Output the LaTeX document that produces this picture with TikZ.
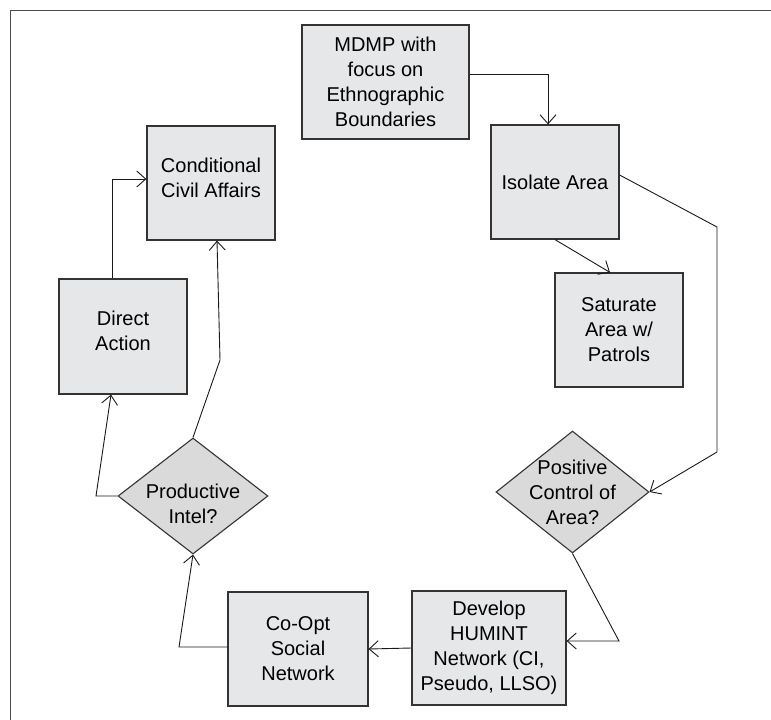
\documentclass[tikz,border=0pt]{standalone}
\usepackage{fontspec}
\setmainfont{Liberation Sans}
\usetikzlibrary{shapes.geometric,arrows.meta}
\definecolor{boxgray}{RGB}{230,231,232}
\definecolor{diagray}{RGB}{218,218,219}

\begin{document}
\begin{tikzpicture}[x=1pt, y=-1pt,
  every node/.style={inner sep=0pt, align=center, font=\fontsize{20}{25}\selectfont},
  procbox/.style={draw=black!80, line width=1.2pt, rectangle, fill=boxgray, minimum width=128pt, minimum height=114pt},
  decbox/.style={draw=black!80, line width=1.1pt, diamond, fill=diagray},
  flow/.style={draw=black!90, line width=0.9pt, -{Straight Barb[length=9pt,width=16pt]}}]
\useasboundingbox (0,0) rectangle (771,720);
\draw[black!70, line width=1.2pt] (10.5,720) -- (10.5,10.5) -- (771,10.5);
\node[procbox, minimum width=167pt] (MDMP) at (385.5,82) {MDMP with\\focus on\\Ethnographic\\Boundaries};
\node[procbox] (ISO) at (555,182) {Isolate Area};
\node[procbox] (SAT) at (619,330) {Saturate\\Area w/\\Patrols};
\node[decbox, minimum width=153pt, minimum height=122pt, label={center:Positive\\Control of\\Area?}] (POS) at (572.5,492) {};
\node[procbox, minimum width=154pt] (DEV) at (489,648) {Develop\\HUMINT\\Network (CI,\\Pseudo, LLSO)};
\node[procbox, minimum width=140pt] (COOP) at (298,649) {Co-Opt\\Social\\Network};
\node[decbox, minimum width=150pt, minimum height=116pt, label={[yshift=-8pt]center:Productive\\Intel?}] (PROD) at (193,496) {};
\node[procbox, minimum height=115pt, text depth=11pt] (DIR) at (123,336.5) {Direct\\Action};
\node[procbox, text depth=11pt] (CCA) at (211,183) {Conditional\\Civil Affairs};
\draw[flow] ([yshift=8pt]MDMP.east) -| ([xshift=-7pt]ISO.north);
\draw[flow] ([yshift=7pt]ISO.east) -- (717,227) -- (717,452) -- (POS.east);
\draw[flow] (ISO.south) -- ([xshift=-9pt]SAT.north);
\draw[flow] (POS.south) -- (619,641) -- ([yshift=7pt]DEV.east);
\draw[flow] (DEV.west) -- (COOP.east);
\draw[flow] ([yshift=2pt]COOP.west) -- (179,647) -- (PROD.south);
\draw[flow] (PROD.west) -- (96,496) -- ([xshift=-12pt]DIR.south);
\draw[flow] (PROD.north) -- (220,360) -- ([xshift=6pt]CCA.south);
\draw[flow] ([xshift=-11pt]DIR.north) |- ([yshift=4pt]CCA.west);
\end{tikzpicture}
\end{document}
